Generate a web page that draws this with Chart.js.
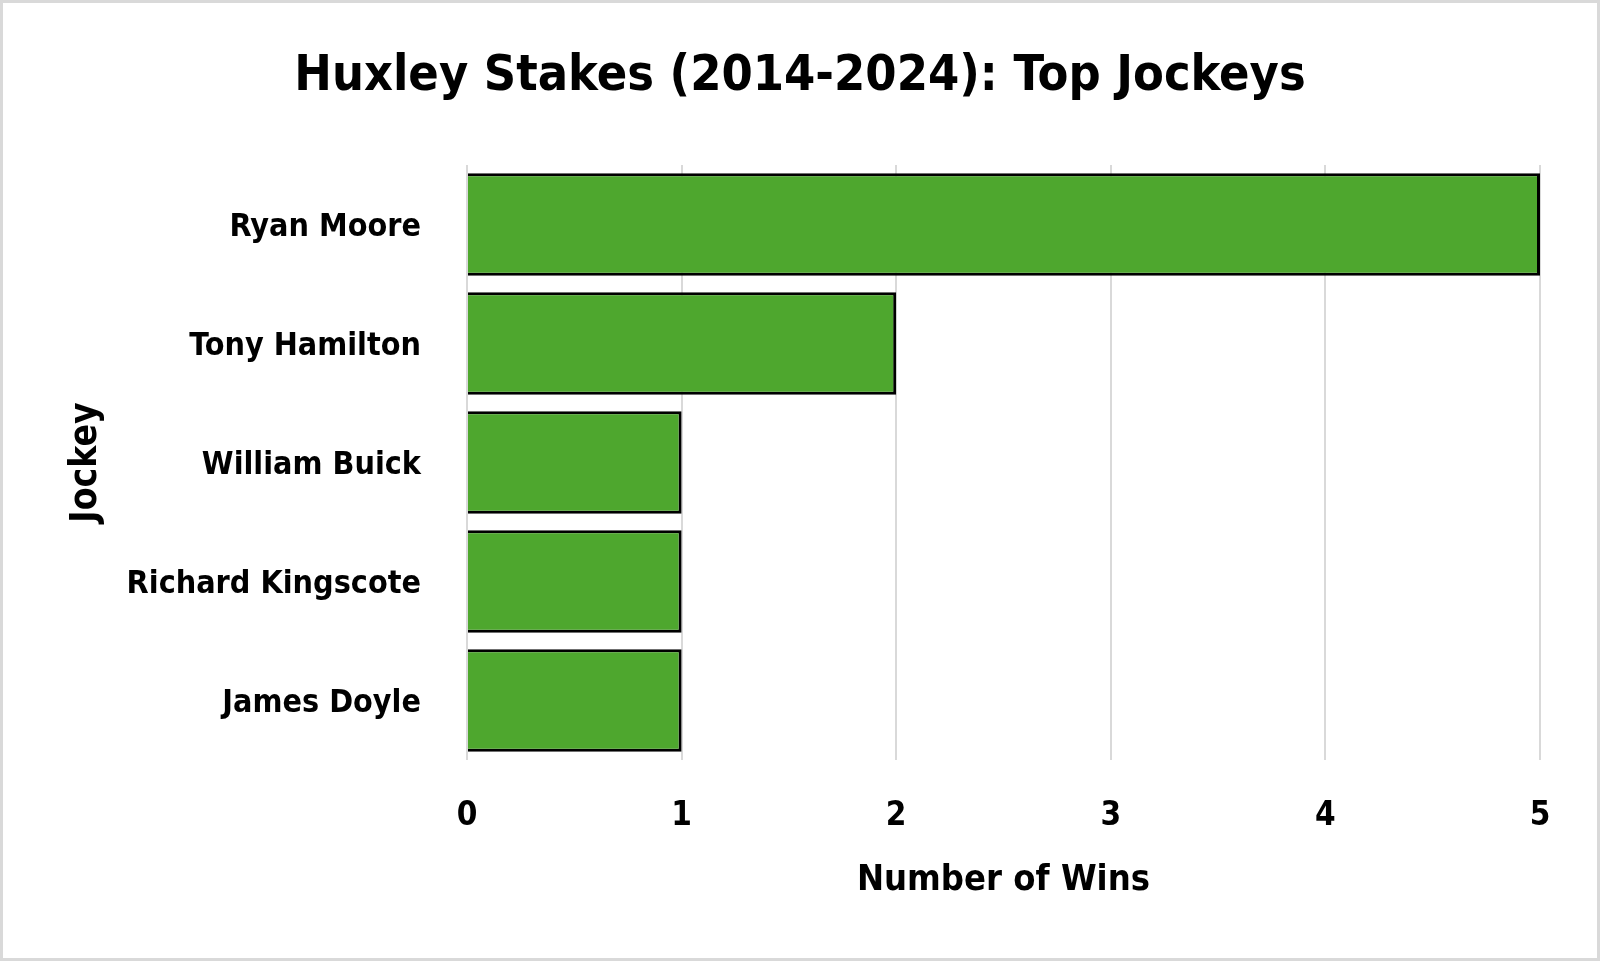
<!DOCTYPE html>
<html>
<head>
<meta charset="utf-8">
<script src="https://cdn.jsdelivr.net/npm/chart.js@4"></script>
<style>
  html, body { margin: 0; padding: 0; background: #fff; }
  canvas { display: block; }
</style>
</head>
<body>
<canvas id="c" width="1600" height="961"></canvas>
<script>
const jockeys = ["Ryan Moore", "Tony Hamilton", "William Buick", "Richard Kingscote", "James Doyle"];
const wins = [5, 2, 1, 1, 1];
const xTicks = [0, 1, 2, 3, 4, 5];
const chartTitle = "Huxley Stakes (2014-2024): Top Jockeys";
const xTitle = "Number of Wins";
const yTitle = "Jockey";

const FONT = "'DejaVu Sans Condensed', 'Liberation Sans', sans-serif";

const frame = {
  id: 'frame',
  beforeDraw(chart) {
    const ctx = chart.ctx;
    ctx.save();
    ctx.fillStyle = '#ffffff';
    ctx.fillRect(0, 0, chart.width, chart.height);
    ctx.strokeStyle = '#d9d9d9';
    ctx.lineWidth = 3;
    ctx.strokeRect(1.5, 1.5, chart.width - 3, chart.height - 3);
    ctx.restore();
  }
};

new Chart(document.getElementById('c'), {
  type: 'bar',
  data: {
    labels: jockeys,
    datasets: [{
      data: wins,
      backgroundColor: '#4EA72E',
      borderColor: '#000000',
      borderWidth: 3,
      categoryPercentage: 1,
      barPercentage: 0.86
    }]
  },
  options: {
    indexAxis: 'y',
    responsive: false,
    devicePixelRatio: 1,
    animation: false,
    layout: { padding: 0 },
    plugins: {
      legend: { display: false },
      tooltip: { enabled: false },
      title: {
        display: true,
        text: chartTitle,
        color: '#000',
        font: { family: FONT, size: 50, weight: 'bold', lineHeight: 1.2 },
        padding: { top: 47, bottom: 58 }
      }
    },
    scales: {
      x: {
        min: xTicks[0],
        max: xTicks[xTicks.length - 1],
        afterBuildTicks(scale) { scale.ticks = xTicks.map(v => ({ value: v })); },
        afterFit(scale) { scale.height = 201; },
        border: { display: false },
        grid: { color: '#d9d9d9', lineWidth: 2, drawTicks: false },
        ticks: {
          color: '#000',
          padding: 37,
          font: { family: FONT, size: 33, weight: 'bold', lineHeight: 1.2 }
        },
        title: {
          display: true,
          text: xTitle,
          color: '#000',
          font: { family: FONT, size: 36, weight: 'bold', lineHeight: 1.2 },
          padding: { top: 0, bottom: 59 }
        }
      },
      y: {
        afterFit(scale) { scale.width = 467; },
        border: { display: false },
        grid: { display: false, drawTicks: false },
        ticks: {
          color: '#000',
          padding: 46,
          labelOffset: 3,
          font: { family: FONT, size: 32, weight: 'bold', lineHeight: 1.2 }
        },
        title: {
          display: true,
          text: yTitle,
          color: '#000',
          font: { family: FONT, size: 37, weight: 'bold', lineHeight: 1.2 },
          padding: { top: 64, bottom: 0 }
        }
      },
      rightGap: {
        type: 'linear',
        position: 'right',
        afterFit(scale) { scale.width = 60; },
        border: { display: false },
        grid: { display: false, drawTicks: false },
        ticks: { display: false },
        title: { display: false }
      }
    }
  },
  plugins: [frame]
});
</script>
</body>
</html>
